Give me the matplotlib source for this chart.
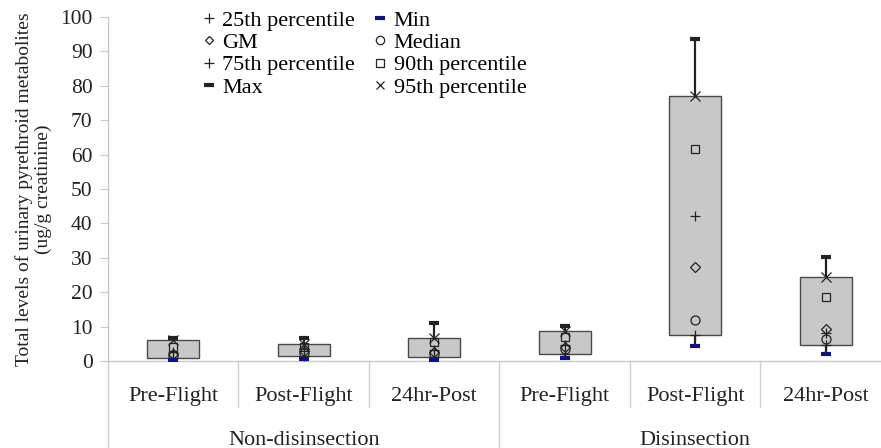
import matplotlib
matplotlib.use("Agg")
import matplotlib.pyplot as plt
from matplotlib.lines import Line2D
import numpy as np

plt.rcParams['font.family'] = ['Liberation Serif', 'DejaVu Serif']

# categories
groups = ['Non-disinsection', 'Disinsection']
periods = ['Pre-Flight', 'Post-Flight', '24hr-Post',
           'Pre-Flight', 'Post-Flight', '24hr-Post']

# summary statistics per column (ug/g creatinine)
v_min = [0.3, 0.5, 0.3, 0.8, 4.5, 2.0]
p25 = [1.0, 1.5, 1.3, 2.0, 7.6, 4.6]
median = [1.5, 2.4, 2.0, 3.4, 11.8, 6.3]
gm = [2.0, 3.0, 2.6, 4.0, 27.3, 9.3]
p75 = [2.6, 3.6, 3.2, 4.6, 42.2, 8.2]
p90 = [4.2, 4.2, 5.6, 7.1, 61.6, 18.7]
p95 = [6.2, 4.9, 6.8, 8.8, 77.1, 24.5]
v_max = [6.8, 6.8, 11.0, 10.2, 93.6, 30.3]

W, H = 881, 448
fig = plt.figure(figsize=(W / 100, H / 100), dpi=100)
# plot area runs a little past the right edge, as in the original
ax = fig.add_axes([108 / W, (H - 361) / H, 783 / W, 344 / H])

x = np.arange(1, len(periods) + 1)
lc = '#222222'
fs = 16

ax.vlines(x, p95, v_max, color=lc, lw=1.6, zorder=1)
ax.vlines(x, v_min, p25, color=lc, lw=1.6, zorder=1)
ax.bar(x, np.array(p95) - np.array(p25), bottom=p25, width=0.4,
       color='#c8c8c8', edgecolor='#4a4a4a', lw=1.0, zorder=2)

ax.plot(x, v_max, ls='none', marker='_', ms=7.5, mew=3, color=lc, zorder=4)
ax.plot(x, v_min, ls='none', marker='_', ms=7.5, mew=3, color='#10108a', zorder=4)
ax.plot(x, p25, ls='none', marker='+', ms=7, mew=0.9, color=lc, zorder=3)
ax.plot(x, p75, ls='none', marker='+', ms=7, mew=0.9, color=lc, zorder=3)
ax.plot(x, gm, ls='none', marker='D', ms=5, mew=0.9, mfc='none', mec=lc, zorder=3)
ax.plot(x, median, ls='none', marker='o', ms=6.5, mew=0.9, mfc='none', mec=lc, zorder=3)
ax.plot(x, p90, ls='none', marker='s', ms=6, mew=0.9, mfc='none', mec=lc, zorder=3)
ax.plot(x, p95, ls='none', marker='x', ms=7, mew=0.9, color=lc, zorder=3)

ax.set_xlim(0.5, len(periods) + 0.5)
ax.set_ylim(0, 100)
ax.set_yticks(np.arange(0, 101, 10))
ax.set_xticks([])
for s in ['top', 'right']:
    ax.spines[s].set_visible(False)
for s in ['left', 'bottom']:
    ax.spines[s].set_color('#c8c8c8')
    ax.spines[s].set_linewidth(1.0)
ax.tick_params(axis='y', length=6, width=0.8, color='#c8c8c8', pad=5,
               labelsize=15.5, labelcolor='#222222')

ax.set_ylabel('Total levels of urinary pyrethroid metabolites\n(ug/g creatinine)',
              fontsize=14, color='#222222', linespacing=1.1, labelpad=6)

# multi-level category axis
tr = ax.get_xaxis_transform()
sep_kw = dict(color='#d0d0d0', lw=1.0, transform=tr, clip_on=False)
for i in range(len(periods) + 1):
    xs = 0.5 + i
    if i % 3 == 0:
        ax.plot([xs, xs], [0, -0.26], **sep_kw)
    else:
        ax.plot([xs, xs], [0, -0.135], **sep_kw)
for xi, lab in zip(x, periods):
    ax.text(xi, -0.102, lab, transform=tr, ha='center', va='center',
            fontsize=fs, color='#222222')
for gi, g in enumerate(groups):
    ax.text(2 + 3 * gi, -0.23, g, transform=tr, ha='center', va='center',
            fontsize=fs, color='#222222')

mk = dict(ls='none', color=lc, mfc='none', mec=lc)
handles = [
    Line2D([], [], marker='+', ms=7, mew=0.9, **mk),
    Line2D([], [], marker='D', ms=4.5, mew=0.9, **mk),
    Line2D([], [], marker='+', ms=7, mew=0.9, **mk),
    Line2D([], [], marker='_', ms=7, mew=3, ls='none', color=lc),
    Line2D([], [], marker='_', ms=7, mew=3, ls='none', color='#10108a'),
    Line2D([], [], marker='o', ms=6, mew=0.9, **mk),
    Line2D([], [], marker='s', ms=5.5, mew=0.9, **mk),
    Line2D([], [], marker='x', ms=6, mew=0.9, **mk),
]
labels = ['25th percentile', 'GM', '75th percentile', 'Max',
          'Min', 'Median', '90th percentile', '95th percentile']
fig.legend(handles, labels, ncol=2, loc='upper left',
           bbox_to_anchor=(191 / W, 1 + 1 / H), frameon=False,
           fontsize=fs, handlelength=0.6, handletextpad=0.3,
           columnspacing=0.85, labelspacing=0.08, borderpad=0)

fig.savefig('out.png', dpi=100, facecolor='white')
